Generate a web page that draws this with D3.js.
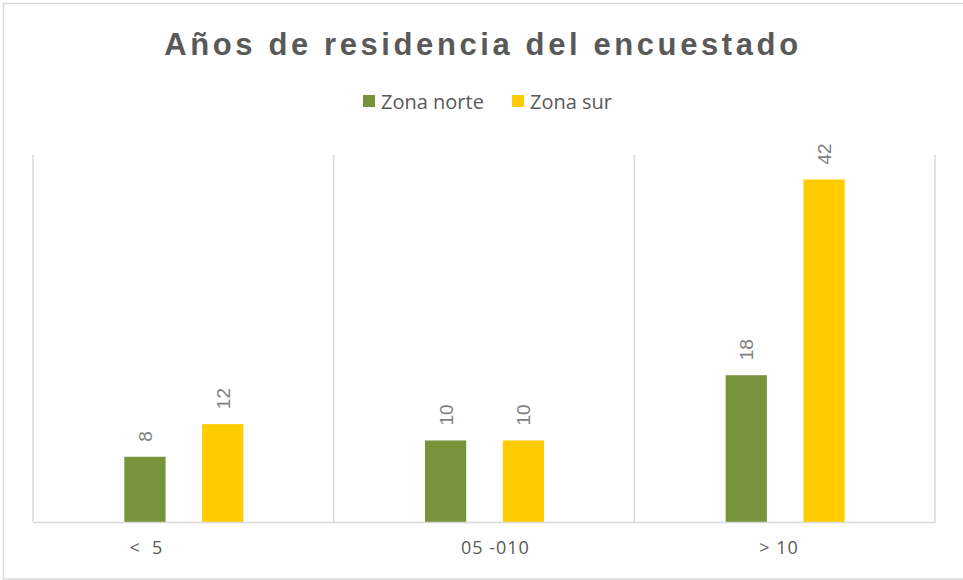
<!DOCTYPE html>
<html>
<head>
<meta charset="utf-8">
<script src="https://cdn.jsdelivr.net/npm/d3@7"></script>
<style>
  html, body { margin: 0; padding: 0; background: #fff; }
  svg { display: block; }
</style>
</head>
<body>
<svg id="chart" width="963" height="580"></svg>
<script>
// Chart data (category labels keep their original padding spaces)
const categories = ["<  5             ", "    05 -010", "> 10  "];
const seriesNames = ["Zona norte", "Zona sur"];
const zonaNorte = [8, 10, 18];
const zonaSur = [12, 10, 42];
const seriesColors = ["#77933C", "#FFCC00"];
const titleText = "Años de residencia del encuestado";

const svg = d3.select("#chart");
const W = 963, H = 580;

// Outer frame
svg.append("rect")
  .attr("x", 3.5).attr("y", 3.5)
  .attr("width", W).attr("height", H - 4.5)
  .attr("fill", "#fff")
  .attr("stroke", "#d9d9d9").attr("stroke-width", 1.5);

const plot = { left: 33, right: 935, top: 155, bottom: 522 };

const x = d3.scaleBand()
  .domain(categories)
  .range([plot.left, plot.right])
  .paddingInner(0).paddingOuter(0);

const xSeries = d3.scaleBand()
  .domain(seriesNames)
  .range([x.bandwidth() / 2 - 59, x.bandwidth() / 2 + 60])
  .paddingInner(0.47).paddingOuter(0);

const y = d3.scaleLinear()
  .domain([0, 45])
  .range([plot.bottom, plot.top]);

// Vertical category separators
const sepX = [plot.left].concat(categories.map(c => x(c) + x.bandwidth()));
svg.append("g").selectAll("line")
  .data(sepX)
  .join("line")
  .attr("x1", d => d).attr("x2", d => d)
  .attr("y1", plot.top).attr("y2", plot.bottom)
  .attr("stroke", "#d9d9d9").attr("stroke-width", 1.5);

// Bars
const rows = categories.map((c, i) => ({
  cat: c,
  values: [
    { name: seriesNames[0], value: zonaNorte[i], color: seriesColors[0] },
    { name: seriesNames[1], value: zonaSur[i], color: seriesColors[1] }
  ]
}));

const groups = svg.append("g").selectAll("g")
  .data(rows)
  .join("g")
  .attr("transform", d => `translate(${x(d.cat)},0)`);

groups.selectAll("rect")
  .data(d => d.values)
  .join("rect")
  .attr("x", d => xSeries(d.name))
  .attr("width", xSeries.bandwidth())
  .attr("y", d => y(d.value))
  .attr("height", d => y(0) - y(d.value))
  .attr("fill", d => d.color);

// Value labels, rotated
groups.selectAll("text")
  .data(d => d.values)
  .join("text")
  .attr("transform", d => `translate(${xSeries(d.name) + xSeries.bandwidth() / 2 + 7},${y(d.value) - 15}) rotate(-90)`)
  .attr("text-anchor", "start")
  .attr("font-family", "'Liberation Sans', Arial, sans-serif")
  .attr("font-size", 19)
  .attr("fill", "#7f7f7f")
  .text(d => d.value);

// Baseline axis
const xAxis = svg.append("g")
  .attr("transform", `translate(0,${plot.bottom})`)
  .call(d3.axisBottom(x).tickSize(0).tickPadding(19));
xAxis.select(".domain")
  .attr("stroke", "#d9d9d9").attr("stroke-width", 1.5);
xAxis.selectAll("text")
  .attr("font-family", "'Open Sans', 'Noto Sans', sans-serif")
  .attr("font-size", 18)
  .attr("letter-spacing", 1)
  .attr("fill", "#595959")
  .style("white-space", "pre")
  .attr("xml:space", "preserve");

// Title
svg.append("text")
  .attr("x", 483).attr("y", 55)
  .attr("text-anchor", "middle")
  .attr("font-family", "'Liberation Sans', Arial, sans-serif")
  .attr("font-weight", "bold")
  .attr("font-size", 31)
  .attr("letter-spacing", 3.6)
  .attr("fill", "#595959")
  .text(titleText);

// Legend
const legendX = [363, 512];
const legend = svg.append("g").selectAll("g")
  .data(seriesNames)
  .join("g")
  .attr("transform", (d, i) => `translate(${legendX[i]},95)`);
legend.append("rect")
  .attr("width", 12).attr("height", 12)
  .attr("fill", (d, i) => seriesColors[i]);
legend.append("text")
  .attr("x", 18).attr("y", 14)
  .attr("font-family", "'Open Sans', 'Noto Sans', sans-serif")
  .attr("font-size", 20)
  .attr("fill", "#595959")
  .text(d => d);
</script>
</body>
</html>
